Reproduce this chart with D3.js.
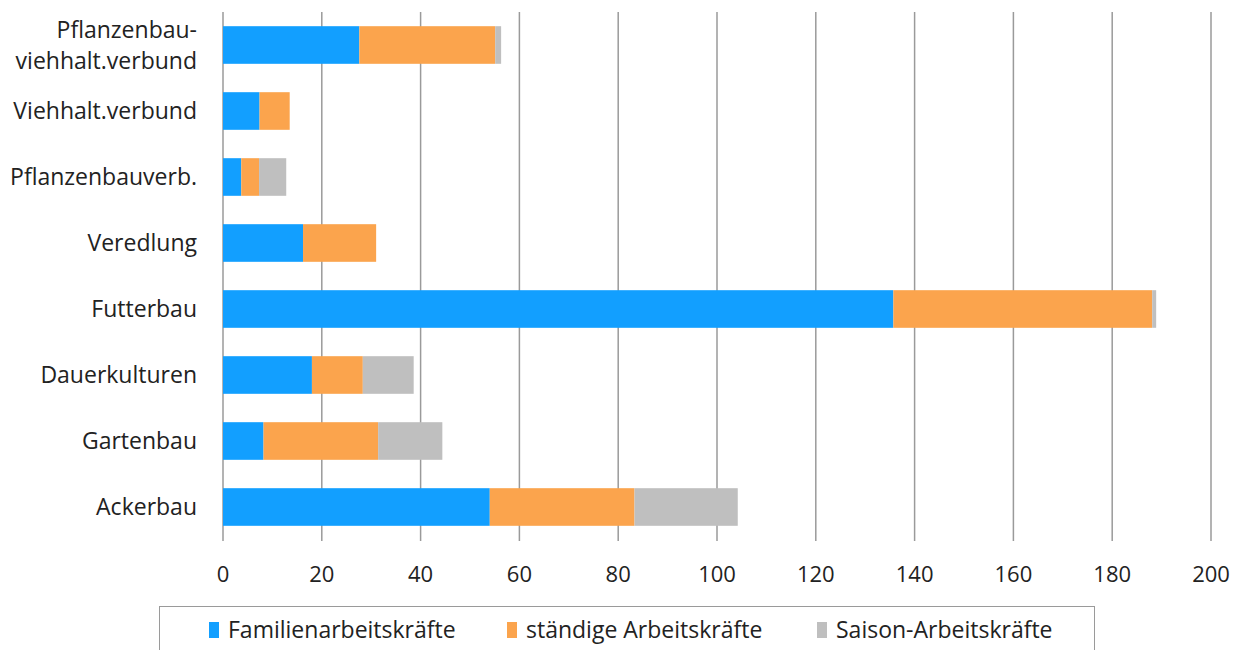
<!DOCTYPE html>
<html><head><meta charset="utf-8">
<script src="https://cdn.jsdelivr.net/npm/d3@7"></script>
<style>body{margin:0;background:#fff}svg{display:block}</style>
</head><body>
<svg id="c" width="1241" height="650"></svg>
<script>
const categories = ["Pflanzenbau-viehhalt.verbund","Viehhalt.verbund","Pflanzenbauverb.","Veredlung","Futterbau","Dauerkulturen","Gartenbau","Ackerbau"];
const familien = [27.6, 7.4, 3.7, 16.2, 135.7, 18.0, 8.2, 54.0];
const staendige = [27.5, 6.1, 3.6, 14.8, 52.4, 10.3, 23.2, 29.3];
const saison = [1.2, 0, 5.5, 0, 0.8, 10.3, 13.0, 20.9];
const seriesNames = ["Familienarbeitskräfte","ständige Arbeitskräfte","Saison-Arbeitskräfte"];
const colors = ["#129FFF","#FBA44D","#BFBFBF"];
const xTicks = [0,20,40,60,80,100,120,140,160,180,200];

const svg = d3.select("#c");
const font = "'Open Sans', 'Noto Sans', sans-serif";
const fs = 22;
const fsLab = 23;
const x = d3.scaleLinear().domain([0,200]).range([223,1211]);
const y = d3.scaleBand().domain(categories).range([12,540]).paddingInner(0.43).paddingOuter(0.215);

const rows = categories.map((c,i)=>({cat:c, vals:[familien[i], staendige[i], saison[i]]}));
const stack = d3.stack().keys([0,1,2]).value((d,k)=>d.vals[k]);
const layers = stack(rows);

// gridlines
svg.append("g").selectAll("line").data(xTicks).join("line")
  .attr("x1",d=>x(d)).attr("x2",d=>x(d)).attr("y1",12).attr("y2",541)
  .attr("stroke","#9a9a9a").attr("stroke-width",1.5);

// bars
layers.forEach((layer,k)=>{
  svg.append("g").selectAll("rect").data(layer).join("rect")
    .attr("x",d=>x(d[0])).attr("width",d=>Math.max(0,x(d[1])-x(d[0])))
    .attr("y",d=>y(d.data.cat)).attr("height",y.bandwidth())
    .attr("fill",colors[k]);
});

// x tick labels
svg.append("g").selectAll("text").data(xTicks).join("text")
  .attr("x",d=>x(d)).attr("y",582).attr("text-anchor","middle")
  .attr("font-family",font).attr("font-size",fs).attr("fill","#222")
  .text(d=>d);

// category labels
const lab = svg.append("g");
categories.forEach(c=>{
  const cy = y(c)+y.bandwidth()/2;
  const parts = c==="Pflanzenbau-viehhalt.verbund" ? ["Pflanzenbau-","viehhalt.verbund"] : [c];
  parts.forEach((p,i)=>{
    lab.append("text").attr("x",197).attr("y",cy + 8 + (i-(parts.length-1)/2)*31)
      .attr("text-anchor","end").attr("font-family",font).attr("font-size",fsLab).attr("fill","#222")
      .text(p);
  });
});

// legend
svg.append("rect").attr("x",159.5).attr("y",606.5).attr("width",935).attr("height",60)
  .attr("fill","none").attr("stroke","#9a9a9a").attr("stroke-width",1);
const legX = [209, 507, 817];
seriesNames.forEach((n,k)=>{
  svg.append("rect").attr("x",legX[k]).attr("y",622).attr("width",10).attr("height",16).attr("fill",colors[k]);
  svg.append("text").attr("x",legX[k]+19).attr("y",638).attr("font-family",font).attr("font-size",fsLab).attr("fill","#222").text(n);
});
</script>
</body></html>
